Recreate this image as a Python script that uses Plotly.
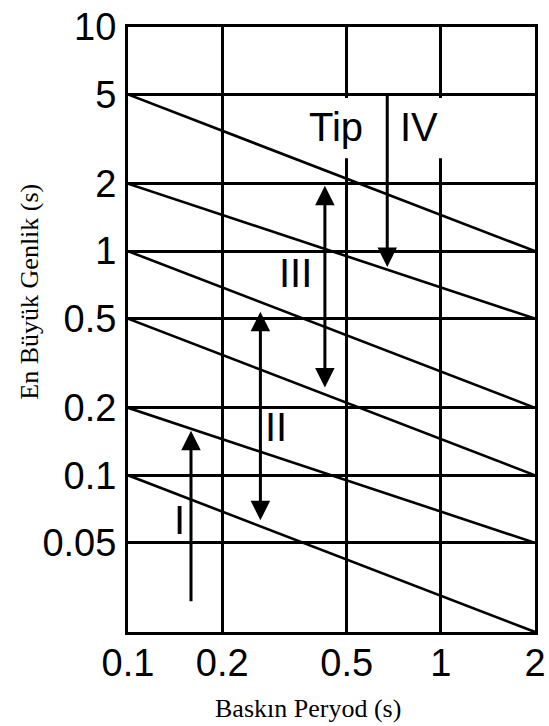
import math
import plotly.graph_objects as go

# ---- data ----
x_ticks = [0.1, 0.2, 0.5, 1, 2]
x_tick_labels = ["0.1", "0.2", "0.5", "1", "2"]
y_ticks = [0.05, 0.1, 0.2, 0.5, 1, 2, 5, 10]
y_tick_labels = ["0.05", "0.1", "0.2", "0.5", "1", "2", "5", "10"]

line_x = [0.1, 2]
line_start = [5, 2, 1, 0.5, 0.2, 0.1]      # value at 0.1 s
line_end = [1, 0.5, 0.2, 0.1, 0.05, 0.02]  # value at 2 s

arrow_names = ["I", "II", "III", "IV"]
arrow_x = [0.159, 0.265, 0.426, 0.674]
arrow_from = [0.027, 0.062, 0.243, 5.0]
arrow_to = [0.158, 0.537, 1.96, 0.85]
arrow_double = [False, True, True, False]

label_text = ["I", "II", "III", "Tip", "IV"]
label_x = [0.146, 0.297, 0.343, 0.463, 0.853]
label_y = [0.063, 0.164, 0.80, 3.58, 3.58]

box_x = [0.40, 1.80]
box_y = [2.6, 4.82]

x_title = "Baskın Peryod (s)"
y_title = "En Büyük Genlik (s)"

SANS = "Liberation Sans, Arial, sans-serif"
SERIF = "Liberation Serif, Times New Roman, serif"

fig = go.Figure()

# white box behind "Tip IV"
fig.add_trace(go.Scatter(
    x=[box_x[0], box_x[1], box_x[1], box_x[0], box_x[0]],
    y=[box_y[0], box_y[0], box_y[1], box_y[1], box_y[0]],
    fill="toself", fillcolor="white", mode="none",
    hoverinfo="skip", showlegend=False))

for s, e in zip(line_start, line_end):
    fig.add_trace(go.Scatter(
        x=line_x, y=[s, e], mode="lines",
        line=dict(color="black", width=2.6),
        showlegend=False, hoverinfo="skip"))

annotations = []
for n, xv, a0, a1, dbl in zip(arrow_names, arrow_x, arrow_from, arrow_to, arrow_double):
    ann = dict(
        x=math.log10(xv), y=math.log10(a1),
        ax=math.log10(xv), ay=math.log10(a0),
        xref="x", yref="y", axref="x", ayref="y",
        text="", showarrow=True,
        arrowhead=2, arrowsize=1.3, arrowwidth=3, arrowcolor="black",
        standoff=0, startstandoff=0)
    if dbl:
        ann.update(arrowside="end+start", startarrowhead=2, startarrowsize=1.3)
    annotations.append(ann)

for t, xv, yv in zip(label_text, label_x, label_y):
    annotations.append(dict(
        x=math.log10(xv), y=math.log10(yv), xref="x", yref="y",
        text=t, showarrow=False,
        font=dict(family=SANS, size=40, color="black"),
        xanchor="center", yanchor="middle"))

annotations.append(dict(
    x=0.4426, y=-0.127, xref="paper", yref="paper", text=x_title,
    showarrow=False, font=dict(family=SERIF, size=26, color="black"),
    xanchor="center", yanchor="middle"))
annotations.append(dict(
    x=-0.2416, y=0.562, xref="paper", yref="paper", text=y_title,
    showarrow=False, textangle=-90,
    font=dict(family=SERIF, size=26, color="black"),
    xanchor="center", yanchor="middle"))

fig.update_layout(
    width=549, height=726,
    margin=dict(l=128, r=3, t=27, b=94, pad=0),
    paper_bgcolor="white", plot_bgcolor="white",
    showlegend=False,
    annotations=annotations,
    xaxis=dict(
        type="log", range=[math.log10(0.1), math.log10(2)],
        tickvals=x_ticks, ticktext=x_tick_labels,
        showgrid=True, gridcolor="black", gridwidth=3,
        showline=True, linecolor="black", linewidth=3, mirror=True,
        ticks="", ticklabelstandoff=-5, ticklabeloverflow="allow",
        tickfont=dict(family=SANS, size=38, color="black"),
        zeroline=False),
    yaxis=dict(
        type="log", range=[math.log10(0.02), math.log10(10)],
        tickvals=y_ticks, ticktext=y_tick_labels,
        showgrid=True, gridcolor="black", gridwidth=3,
        showline=True, linecolor="black", linewidth=3, mirror=True,
        ticks="", ticklabelstandoff=1, ticklabeloverflow="allow",
        tickfont=dict(family=SANS, size=38, color="black"),
        zeroline=False),
)

fig.write_html(
    "out.html",
    config={"displayModeBar": False},
    post_script="document.body.style.margin='0';document.body.style.overflow='hidden';",
)
